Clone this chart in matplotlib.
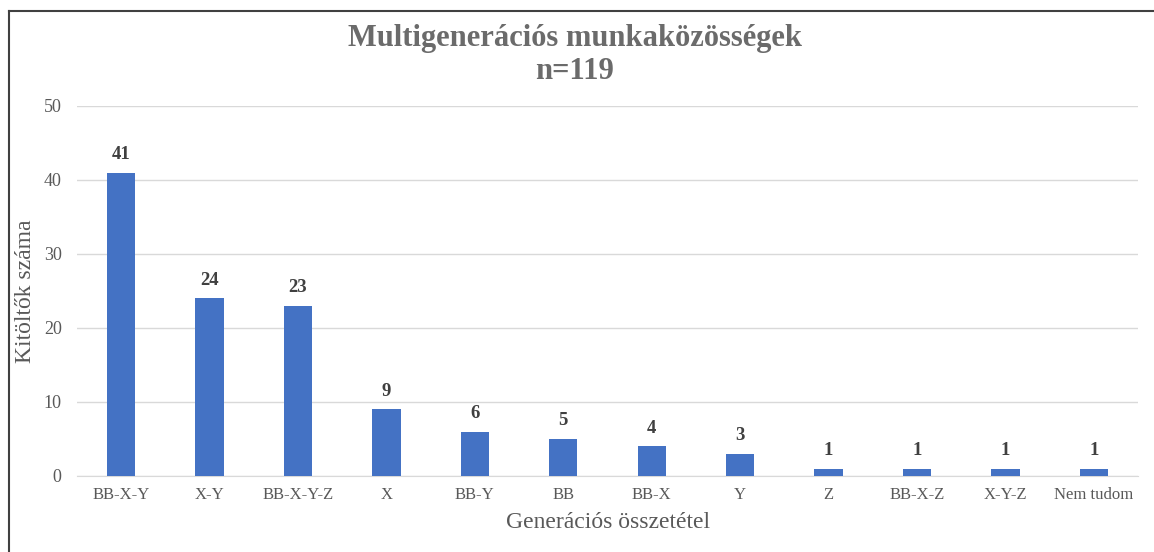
import matplotlib.pyplot as plt
from matplotlib.lines import Line2D

plt.rcParams['font.family'] = ['Liberation Serif', 'DejaVu Serif']

categories = ['BB-X-Y', 'X-Y', 'BB-X-Y-Z', 'X', 'BB-Y', 'BB', 'BB-X', 'Y', 'Z',
              'BB-X-Z', 'X-Y-Z', 'Nem tudom']
counts = [41, 24, 23, 9, 6, 5, 4, 3, 1, 1, 1, 1]

W, H = 1154, 552
fig = plt.figure(figsize=(W / 100, H / 100), dpi=100)
ax = fig.add_axes([77 / W, 1 - 476 / H, (1138 - 77) / W, (476 - 106) / H])

x = list(range(len(categories)))
bars = ax.bar(x, counts, width=0.32, color='#4472C4', zorder=3)
for xi, v in zip(x, counts):
    ax.annotate(str(v), (xi, v), xytext=(0, 7), textcoords='offset points',
                ha='center', va='bottom', fontsize=13.5, fontweight='bold',
                color='#404040')

ax.set_xlim(-0.5, len(categories) - 0.5)
ax.set_ylim(0, 50)
ax.set_yticks(range(0, 51, 10))
ax.set_xticks(x)
ax.set_xticklabels(categories)
ax.tick_params(axis='both', length=0, labelcolor='#595959')
ax.tick_params(axis='x', labelsize=12, pad=8)
ax.tick_params(axis='y', labelsize=13, pad=11)
ax.grid(axis='y', color='#D9D9D9', linewidth=1, zorder=0)
for s in ['top', 'right', 'left']:
    ax.spines[s].set_visible(False)
ax.spines['bottom'].set_color('#D9D9D9')

ax.set_xlabel('Generációs összetétel', fontsize=17, color='#595959')
ax.set_ylabel('Kitöltők száma', fontsize=17, color='#595959')
ax.xaxis.label.set_va('center')
ax.yaxis.label.set_va('center')
ax.xaxis.set_label_coords((608 - 77) / 1061, (476 - 522) / 370)
ax.yaxis.set_label_coords((26 - 77) / 1061, 0.5)

fig.text(575 / W, 1 - 55 / H, 'Multigenerációs munkaközösségek\nn=119',
         ha='center', va='center', fontsize=22, fontweight='bold',
         color='#6B6B6B', linespacing=1.15)

# chart frame (only left and top edges visible in the crop)
fig.add_artist(Line2D([8.5 / W, 8.5 / W], [0, 1 - 10.5 / H],
                      transform=fig.transFigure, color='#404040', lw=1.5))
fig.add_artist(Line2D([8.5 / W, 1], [1 - 10.5 / H, 1 - 10.5 / H],
                      transform=fig.transFigure, color='#404040', lw=1.5))

fig.savefig('out.png', dpi=100)
